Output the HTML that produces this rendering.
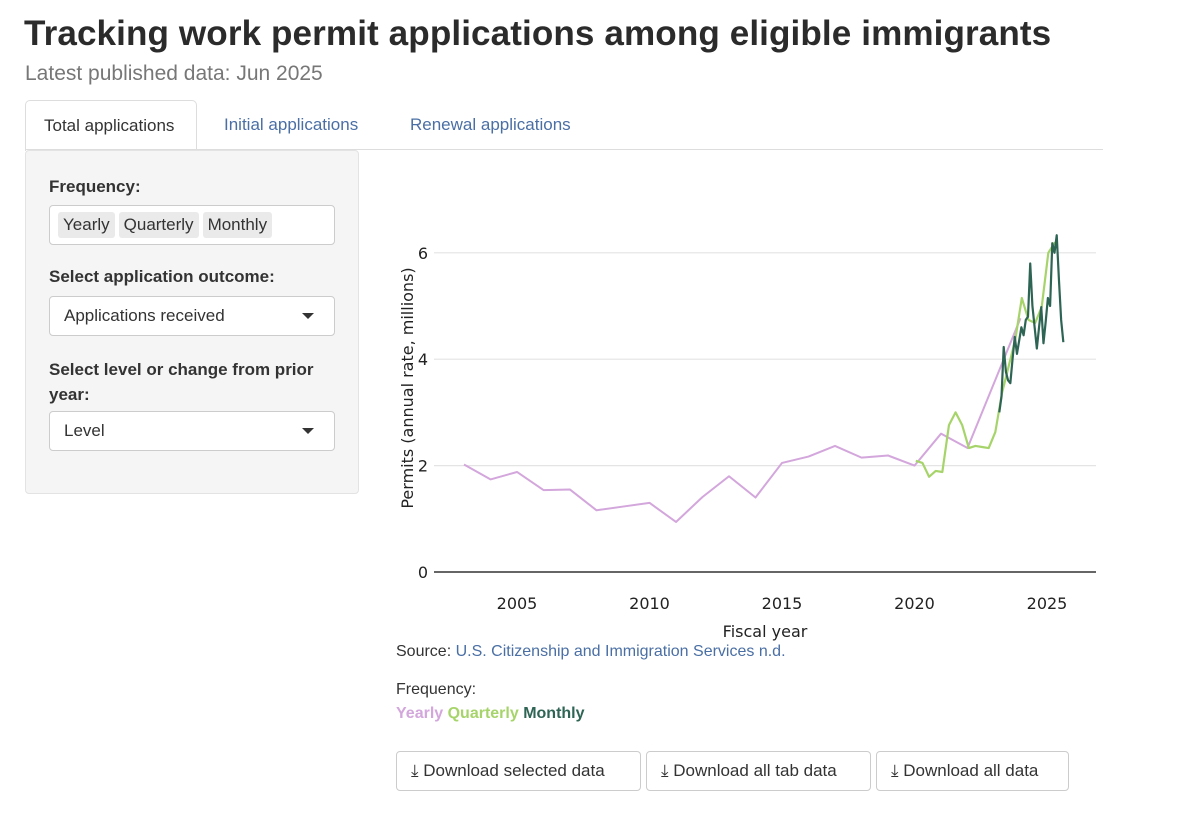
<!DOCTYPE html>
<html><head><meta charset="utf-8">
<style>
body{margin:0;width:1200px;height:817px;background:#fff;font-family:"Liberation Sans",sans-serif;color:#333;position:relative;overflow:hidden}
.abs{position:absolute}
h1{position:absolute;left:24px;top:14px;margin:0;font-size:35.1px;font-weight:bold;color:#2b2b2b;letter-spacing:0.1px}
.sub{left:25px;top:62px;font-size:21px;color:#777}
.tab{top:100px;height:49px;font-size:17px;line-height:49px;padding:0 18px;color:#4a6fa5}
.tab.active{border:1px solid #ddd;border-bottom:none;border-radius:5px 5px 0 0;color:#333;background:#fff;height:50px;padding:0 22px 0 18px}
.tabline{left:25px;top:149px;width:1078px;height:1px;background:#ddd}
.side{left:25px;top:150px;width:334px;height:344px;background:#f5f5f5;border:1px solid #e3e3e3;border-radius:4px;box-sizing:border-box}
.lab{font-weight:bold;font-size:17px;color:#333;left:23px}
.box{left:23px;width:286px;height:40px;background:#fff;border:1px solid #ccc;border-radius:4px;box-sizing:border-box;font-size:17px;line-height:38px;padding-left:14px}
.chip{display:inline-block;background:#eaeaea;border-radius:3px;padding:0 5px;line-height:26px;margin-right:4px}
.caret{position:absolute;right:20px;top:16px;border-left:6px solid transparent;border-right:6px solid transparent;border-top:6px solid #333}
.btn{top:751px;height:40px;border:1px solid #ccc;border-radius:4px;box-sizing:border-box;font-size:17px;line-height:38px;padding:0 14px;color:#333;background:#fff}
</style></head><body>
<h1>Tracking work permit applications among eligible immigrants</h1>
<div class="abs sub">Latest published data: Jun 2025</div>
<div class="abs tab active" style="left:25px">Total applications</div>
<div class="abs tab" style="left:206px">Initial applications</div>
<div class="abs tab" style="left:392px">Renewal applications</div>
<div class="abs tabline"></div>
<div class="abs side">
  <div class="abs lab" style="top:26px">Frequency:</div>
  <div class="abs box" style="top:54px;padding-left:8px"><span class="chip">Yearly</span><span class="chip">Quarterly</span><span class="chip">Monthly</span></div>
  <div class="abs lab" style="top:116px">Select application outcome:</div>
  <div class="abs box" style="top:145px">Applications received<span class="caret"></span></div>
  <div class="abs lab" style="top:206px;width:290px;line-height:25px">Select level or change from prior year:</div>
  <div class="abs box" style="top:260px">Level<span class="caret"></span></div>
</div>
<svg class="abs" style="left:0;top:0" width="1200" height="817" id="chart"></svg>
<div class="abs" style="left:396px;top:643px;font-size:16px">Source: <span style="color:#4a6fa5">U.S. Citizenship and Immigration Services n.d.</span></div>
<div class="abs" style="left:396px;top:681px;font-size:16px">Frequency:</div>
<div class="abs" style="left:396px;top:705px;font-size:16px;font-weight:bold"><span style="color:#d3a6dc">Yearly</span> <span style="color:#a6d46a">Quarterly</span> <span style="color:#2e6454">Monthly</span></div>
<div class="abs btn" style="left:396px;width:245px">⤓ Download selected data</div>
<div class="abs btn" style="left:646px;width:225px">⤓ Download all tab data</div>
<div class="abs btn" style="left:876px;width:193px">⤓ Download all data</div>
<script>
const yearlyYears=[2003,2004,2005,2006,2007,2008,2009,2010,2011,2012,2013,2014,2015,2016,2017,2018,2019,2020,2021,2022,2023,2024];
const yearlyVals=[2.02,1.74,1.88,1.54,1.55,1.16,1.23,1.30,0.94,1.41,1.80,1.40,2.05,2.17,2.37,2.15,2.19,2.00,2.60,2.33,3.55,4.77];
const quarterStart=2020.05;
const quarterVals=[2.09,2.05,1.79,1.90,1.88,2.76,3.00,2.76,2.33,2.37,2.35,2.33,2.63,3.36,3.86,4.36,5.15,4.74,4.68,4.98,6.0,6.2];
const monthStart=2023.2;
const monthVals=[3.0,3.3,4.23,3.76,3.6,3.55,4.0,4.42,4.1,4.35,4.6,4.45,4.74,4.8,5.8,5.0,4.6,4.2,4.6,4.98,4.3,4.7,5.15,5.0,6.18,6.0,6.33,5.5,4.74,4.32];
const yTicks=[0,2,4,6];
const xTicks=[2005,2010,2015,2020,2025];
const NS="http://www.w3.org/2000/svg";
const svg=document.getElementById('chart');
const xS=y=>517+(y-2005)*26.5;
const yS=v=>572-v*53.2;
function el(t,a){const e=document.createElementNS(NS,t);for(const k in a)e.setAttribute(k,a[k]);svg.appendChild(e);return e;}
yTicks.forEach(t=>{
  const g=el('line',{x1:434,x2:1096,y1:yS(t),y2:yS(t),stroke:t===0?'#333':'#e4e4e4','stroke-width':t===0?1.5:1.2});
  
  
  const tx=el('text',{x:428,y:yS(t)+6,'text-anchor':'end','font-size':16,fill:'#222','font-family':'DejaVu Sans, sans-serif'});
  tx.textContent=t;
  
  
});
xTicks.forEach(t=>{
  const tx=el('text',{x:xS(t),y:609,'text-anchor':'middle','font-size':16,fill:'#222','font-family':'DejaVu Sans, sans-serif'});
  tx.textContent=t;
  
  
});
const xt=el('text',{x:765,y:637,'text-anchor':'middle','font-size':16,fill:'#222','font-family':'DejaVu Sans, sans-serif'});
xt.textContent='Fiscal year';


const yt=el('text',{x:0,y:0,'text-anchor':'middle','font-size':16,fill:'#222','font-family':'DejaVu Sans, sans-serif',transform:'translate(413,388) rotate(-90)'});
yt.textContent='Permits (annual rate, millions)';


function line(xs,vs,c,w,name){
  const p=el('polyline',{points:xs.map((x,i)=>xS(x)+','+yS(vs[i])).join(' '),fill:'none',stroke:c,'stroke-width':w,'stroke-linejoin':'round'});
  
  
}
line(yearlyYears,yearlyVals,'#d3a6dc',2,'yearly-line');
line(quarterVals.map((v,i)=>quarterStart+i*0.25),quarterVals,'#a6d46a',2.2,'quarterly-line');
line(monthVals.map((v,i)=>monthStart+i/12),monthVals,'#2e6454',2.2,'monthly-line');
</script>
</body></html>
